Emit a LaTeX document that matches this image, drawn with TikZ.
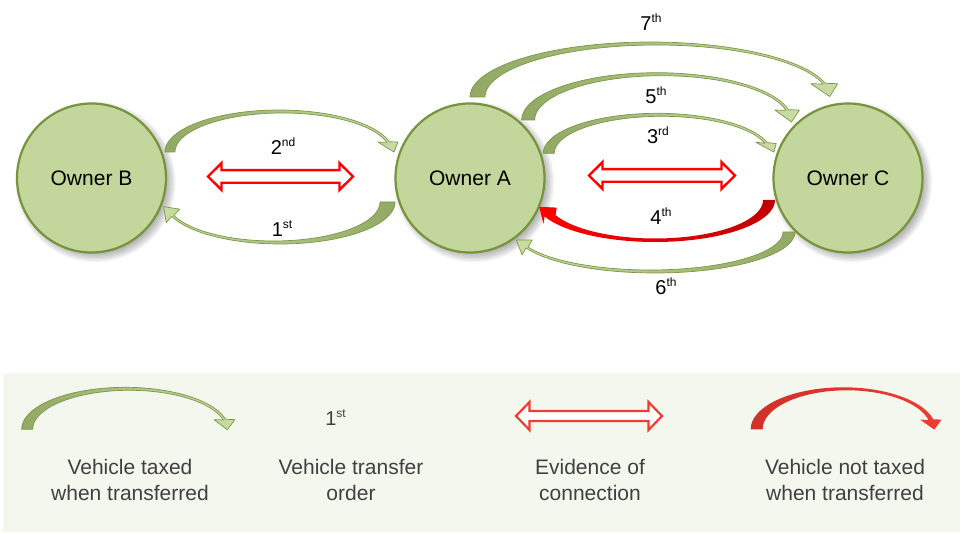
\documentclass[tikz,border=0pt]{standalone}
\usepackage{fontspec}
\setmainfont{Liberation Sans}
\usetikzlibrary{calc}

\definecolor{circfill}{RGB}{195,214,155}
\definecolor{circline}{RGB}{119,147,60}
\definecolor{gdark}{RGB}{146,168,100}
\definecolor{glight}{RGB}{202,220,163}
\definecolor{gline}{RGB}{122,152,70}
\definecolor{rdark}{RGB}{192,0,0}
\definecolor{legbg}{RGB}{244,247,238}
\definecolor{legtxt}{RGB}{64,64,64}
\definecolor{legred}{RGB}{240,60,50}
\definecolor{legreddark}{RGB}{205,50,42}

\pgfkeys{/carr/.is family, /carr,
  cx/.store in=\Acx, cy/.store in=\Acy, a/.store in=\Aa, b/.store in=\Ab,
  t0/.store in=\Ata, t1/.store in=\Atb, phi/.store in=\Aphi, beta/.store in=\Abeta,
  hw/.store in=\Ahw, hl/.store in=\Ahl, w/.store in=\Aw, e/.store in=\Ae, d/.store in=\Ad,
  mode/.store in=\Amode}

% curved block arrow along an ellipse arc
\newcommand\carrow[2]{%
 \begingroup
 \pgfkeys{/carr, t0=180, beta=0, hw=11, hl=12, w=12, e=2.5, d=3, mode=1, #2}%
 \pgfmathsetmacro\Idx{\Amode*(-cos(\Ata))*(\Aw-\Ae)/2}%
 \pgfmathsetmacro\Ia{\Amode*(\Aa-(\Aw+\Ae)/2)+(1-\Amode)*(\Aa-\Aw)}%
 \pgfmathsetmacro\Ib{\Ab-\Ad}%
 \pgfmathsetmacro\Pox{\Acx+\Aa*cos(\Atb)}%
 \pgfmathsetmacro\Poy{\Acy+\Ab*sin(\Atb)}%
 \pgfmathsetmacro\Pix{\Acx+\Idx+\Ia*cos(\Atb)}%
 \pgfmathsetmacro\Piy{\Acy+\Ib*sin(\Atb)}%
 \pgfmathsetmacro\Mx{(\Pox+\Pix)/2}%
 \pgfmathsetmacro\My{(\Poy+\Piy)/2}%
 \pgfmathsetmacro\Sg{sign(\Ab*cos(\Atb)*cos(\Abeta)+\Aa*sin(\Atb)*sin(\Abeta))}%
 \pgfmathsetmacro\Wox{\Mx+\Sg*\Ahw*cos(\Abeta)}%
 \pgfmathsetmacro\Woy{\My+\Sg*\Ahw*sin(\Abeta)}%
 \pgfmathsetmacro\Wix{\Mx-\Sg*\Ahw*cos(\Abeta)}%
 \pgfmathsetmacro\Wiy{\My-\Sg*\Ahw*sin(\Abeta)}%
 \pgfmathsetmacro\Tx{\Mx+\Ahl*cos(\Aphi)}%
 \pgfmathsetmacro\Ty{\My+\Ahl*sin(\Aphi)}%
 \path[#1] plot[domain=\Ata:\Atb, samples=70, variable=\t] ({\Acx+\Aa*cos(\t)},{\Acy+\Ab*sin(\t)})
   -- (\Wox,\Woy) -- (\Tx,\Ty) -- (\Wix,\Wiy)
   -- plot[domain=\Atb:\Ata, samples=70, variable=\t] ({\Acx+\Idx+\Ia*cos(\t)},{\Acy+\Ib*sin(\t)}) -- cycle;
 \endgroup}

% outlined double arrow: style, x0, x1, cy, shaft half height, head half height
\newcommand\dblarr[6]{%
 \draw[#1] (#2,#4) -- ({#2+13.5},{#4-#6}) -- ({#2+13.5},{#4-#5}) -- ({#3-13.5},{#4-#5})
   -- ({#3-13.5},{#4-#6}) -- (#3,#4) -- ({#3-13.5},{#4+#6}) -- ({#3-13.5},{#4+#5})
   -- ({#2+13.5},{#4+#5}) -- ({#2+13.5},{#4+#6}) -- cycle;}

\newcommand\sups[1]{\raisebox{8pt}{\fontsize{12}{12}\selectfont #1}}

\tikzset{
  owner/.style={circle, minimum size=149, inner sep=0, fill=circfill, draw=circline,
    line width=2.2, font=\fontsize{21}{25}\selectfont},
  garr/.style={left color=gdark, right color=glight, draw=gline, line width=0.7, line join=round},
  garrR/.style={left color=glight, right color=gdark, draw=gline, line width=0.7, line join=round},
  rarr/.style={left color=red, middle color=red, right color=rdark, draw=none},
  rlegarr/.style={left color=legreddark, middle color=legred, right color=legred, draw=none},
  dbl/.style={draw=red, line width=2.4, fill=white, line join=miter},
  dblleg/.style={draw=legred, line width=2.2, fill=white, line join=miter},
  lbl/.style={anchor=base, inner sep=0, font=\fontsize{20}{24}\selectfont},
  legtext/.style={anchor=north, inner sep=0, align=center, text=legtxt,
    font=\fontsize{21}{26.4}\selectfont},
}

\begin{document}
\begin{tikzpicture}[x=1pt, y=-1pt]
\useasboundingbox (0,0) rectangle (963,534);

% legend background
\fill[legbg] (3,373) rectangle (960,532);

% soft shadows of the circles
\foreach \cx in {91.5,470,848}{
  \foreach \k in {0,...,7}{
    \fill[black, opacity=0.045] ({\cx+4},{182}) circle ({71+\k*1.3});
  }
}

% owners
\node[owner] (B) at (91.5,178) {Owner B};
\node[owner] (A) at (470,178) {Owner A};
\node[owner] (C) at (848,178) {Owner C};

% curved arrows B <-> A
\carrow{garr}{cx=278.8, cy=152, a=113.8, b=42, t1=345.8, phi=59, hl=11.7, hw=10, w=10}
\carrow{garrR}{cx=280, cy=202, a=115, b=42, t0=0, t1=160, phi=225.2, beta=135.2, hw=9.5, hl=13, w=15}

% curved arrows A <-> C
\carrow{garr}{cx=657.3, cy=153.3, a=114, b=40, t1=344.3, phi=49, hl=12.2, hw=10.3, beta=4, w=11}
\carrow{garr}{cx=656.6, cy=120, a=134.9, b=47.3, t1=347.4, phi=70, hl=12.8, hw=12.3, w=13}
\carrow{garr}{cx=650.5, cy=97, a=180.5, b=55, t1=345.6, phi=67, hl=14, hw=13.5, w=15}
\carrow{garrR}{cx=655, cy=232, a=140, b=41, t0=0, t1=157, phi=214.6, beta=124.6, hw=9, hl=13, w=12}
\carrow{rarr}{cx=655, cy=200, a=120, b=42, t0=0, t1=157, phi=219.5, beta=129.5, hw=10.5, hl=14, w=12, d=3.5, mode=0}

% evidence of connection
\dblarr{dbl}{208}{353}{176.5}{6.3}{13.4}
\dblarr{dbl}{589}{735}{175.5}{6.3}{13.4}

% order labels
\node[lbl] (l1) at (282,236.7) {1\sups{st}};
\node[lbl] (l2) at (283,155) {2\sups{nd}};
\node[lbl] (l3) at (658,144) {3\sups{rd}};
\node[lbl] (l4) at (661,225) {4\sups{th}};
\node[lbl] (l5) at (656,103.3) {5\sups{th}};
\node[lbl] (l6) at (666,295) {6\sups{th}};
\node[lbl] (l7) at (651,30.7) {7\sups{th}};

% legend
\carrow{garr}{cx=125.1, cy=429.3, a=103.4, b=42, t1=346.2, phi=74, hl=10.4, hw=10.5, w=11}
\node[lbl, text=legtxt] (lg1) at (335.5,425) {1\sups{st}};
\dblarr{dblleg}{516}{662}{416}{5}{14}
\carrow{rlegarr}{cx=843.3, cy=429.3, a=92.6, b=42, t1=346.2, phi=71, hl=10.6, hw=10.7, w=12, e=5}

\node[legtext] (t1) at (130,459) {Vehicle taxed\\when transferred};
\node[legtext] (t2) at (351,459) {Vehicle transfer\\order};
\node[legtext] (t3) at (590,459) {Evidence of\\connection};
\node[legtext] (t4) at (845,459) {Vehicle not taxed\\when transferred};
\end{tikzpicture}
\end{document}
